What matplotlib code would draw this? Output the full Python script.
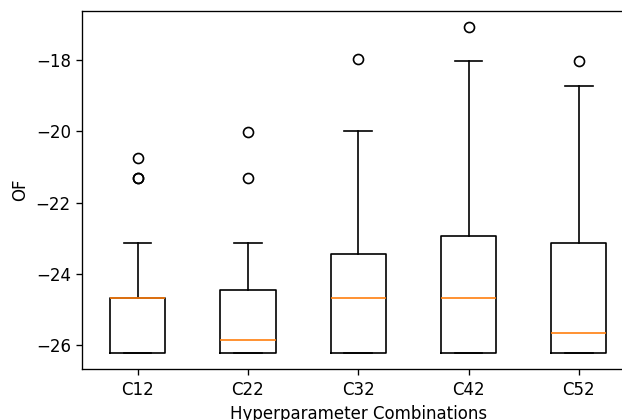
import matplotlib
matplotlib.use('Agg')
import matplotlib.pyplot as plt

labels = ['C12', 'C22', 'C32', 'C42', 'C52']
q1 = [-26.21, -26.21, -26.21, -26.21, -26.21]
med = [-24.68, -25.86, -24.68, -24.68, -25.67]
q3 = [-24.68, -24.46, -23.44, -22.94, -23.13]
whislo = [-26.21, -26.21, -26.21, -26.21, -26.21]
whishi = [-23.14, -23.14, -19.98, -18.03, -18.74]
fliers = [[-20.76, -21.30, -21.30], [-20.02, -21.30], [-17.98], [-17.08], [-18.03]]

stats = []
for i in range(len(labels)):
    stats.append({'label': labels[i], 'q1': q1[i], 'med': med[i], 'q3': q3[i],
                  'whislo': whislo[i], 'whishi': whishi[i], 'fliers': fliers[i]})

# original looks like a 120 dpi render, cropped at the right and bottom
fig = plt.figure(figsize=(622 / 120, 420 / 120), dpi=120)
ax = fig.add_axes([0.1326, 0.1214, 0.8867, 0.8524])
ax.bxp(stats)
ax.set_yticks([-26, -24, -22, -20, -18])
ax.set_xlabel('Hyperparameter Combinations')
ax.set_ylabel('OF')

fig.savefig('out.png', dpi=120)
